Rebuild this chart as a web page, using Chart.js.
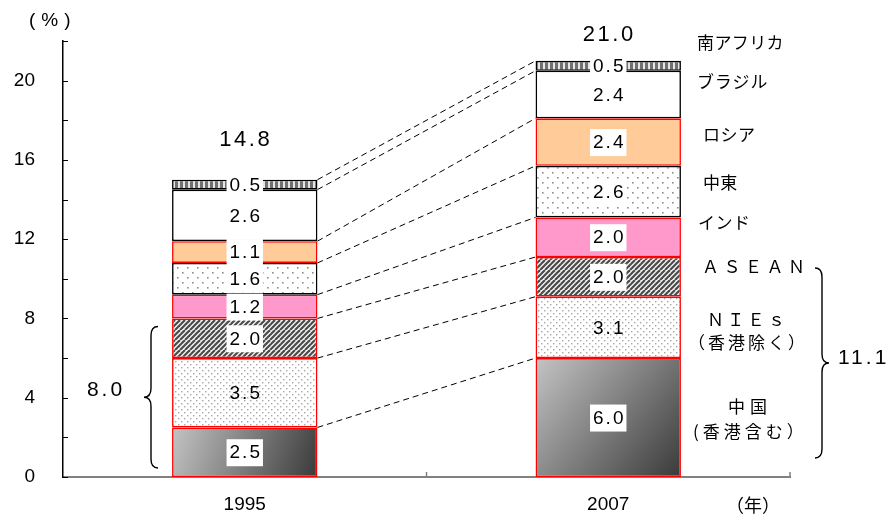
<!DOCTYPE html>
<html>
<head>
<meta charset="utf-8">
<script src="https://cdn.jsdelivr.net/npm/chart.js@4/dist/chart.umd.min.js"></script>
<style>
  html, body { margin: 0; padding: 0; background: #fff; }
  canvas { display: block; }
</style>
</head>
<body>
<canvas id="chart" width="893" height="521"></canvas>
<script>
// Export shares by destination (%), stacked bottom to top
const years = ['1995', '2007'];
const china = [2.5, 6.0];
const nies = [3.5, 3.1];
const asean = [2.0, 2.0];
const india = [1.2, 2.0];
const middleEast = [1.6, 2.6];
const russia = [1.1, 2.4];
const brazil = [2.6, 2.4];
const southAfrica = [0.5, 0.5];
const totals = ['14.8', '21.0'];
const yTickLabels = [0, 4, 8, 12, 16, 20];

const LATIN = '"Liberation Sans", Arial, sans-serif';
const CJK = '"Noto Sans CJK JP", sans-serif';

const canvas = document.getElementById('chart');
const ctx0 = canvas.getContext('2d');

function makePattern(w, h, draw) {
  const c = document.createElement('canvas');
  c.width = w; c.height = h;
  const g = c.getContext('2d');
  draw(g, w, h);
  return ctx0.createPattern(c, 'repeat');
}

const fineDots = makePattern(6, 6, (g) => {
  g.fillStyle = '#fff'; g.fillRect(0, 0, 6, 6);
  g.fillStyle = '#a6a6a6';
  g.fillRect(1, 1, 1.4, 1.4);
  g.fillRect(4, 4, 1.4, 1.4);
});
const sparseDots = makePattern(10, 10, (g) => {
  g.fillStyle = '#fff'; g.fillRect(0, 0, 10, 10);
  g.fillStyle = '#8c8c8c';
  g.fillRect(2, 2, 1.6, 1.6);
  g.fillRect(7, 7, 1.6, 1.6);
});
const hatch = makePattern(10, 10, (g) => {
  g.fillStyle = '#f4f4f4'; g.fillRect(0, 0, 10, 10);
  g.strokeStyle = '#4a4a4a'; g.lineWidth = 2.2;
  for (let k = -10; k <= 10; k += 5) {
    g.beginPath(); g.moveTo(k, 10); g.lineTo(k + 10, 0); g.stroke();
  }
});
const vStripes = makePattern(5, 4, (g) => {
  g.fillStyle = '#e6e6e6'; g.fillRect(0, 0, 5, 4);
  g.fillStyle = '#707070'; g.fillRect(0, 0, 3, 4);
});

// diagonal grey gradient for the bottom segment
function chinaFill(c) {
  const chart = c.chart;
  if (!chart.chartArea || c.dataIndex === undefined) return '#888';
  const xs = chart.scales.x, ys = chart.scales.y;
  const cx = xs.getPixelForValue(c.dataIndex);
  const half = (xs.width / years.length) * 0.4 / 2;
  const top = ys.getPixelForValue(china[c.dataIndex]);
  const base = ys.getPixelForValue(0);
  const g = chart.ctx.createLinearGradient(cx - half, top, cx + half, base);
  g.addColorStop(0, '#c4c4c4');
  g.addColorStop(1, '#3a3a3a');
  return g;
}

function ds(label, data, fill, border, labelBox) {
  return {
    label, data,
    backgroundColor: fill,
    borderColor: border,
    borderWidth: 1.6,
    borderSkipped: false,
    barPercentage: 0.4,
    categoryPercentage: 1.0,
    labelBox
  };
}

const datasets = [
  ds('中国', china, chinaFill, '#ff0000', true),
  ds('NIEs', nies, fineDots, '#ff0000', false),
  ds('ASEAN', asean, hatch, '#ff0000', true),
  ds('インド', india, '#ff99cc', '#ff0000', true),
  ds('中東', middleEast, sparseDots, '#000000', true),
  ds('ロシア', russia, '#ffcc99', '#ff0000', true),
  ds('ブラジル', brazil, '#ffffff', '#000000', false),
  ds('南アフリカ', southAfrica, vStripes, '#000000', true)
];

// right-hand region names
const sideLabels = [
  { text: '南アフリカ', x: 697, y: 43, sp: 0.4 },
  { text: 'ブラジル', x: 697, y: 82, sp: 0.8 },
  { text: 'ロシア', x: 703, y: 135, sp: 0.5 },
  { text: '中東', x: 703, y: 183, sp: 0.2 },
  { text: 'インド', x: 698, y: 223, sp: 0.5 },
  { text: 'ＡＳＥＡＮ', x: 702, y: 267, sp: 4.5 },
  { text: 'ＮＩＥｓ', x: 707, y: 320, sp: 3.3 },
  { text: '（香港除く）', x: 688, y: 343, sp: 3 },
  { text: '中国', x: 728, y: 407, sp: 5 },
  { text: '(香港含む）', x: 693, y: 432, sp: 4 }
];

function brace(ctx, xEnd, xTip, yTop, yBot) {
  const xm = (xEnd + xTip) / 2;
  const ym = (yTop + yBot) / 2;
  const r = 9;
  ctx.beginPath();
  ctx.moveTo(xEnd, yTop);
  ctx.quadraticCurveTo(xm, yTop, xm, yTop + r);
  ctx.lineTo(xm, ym - r);
  ctx.quadraticCurveTo(xm, ym, xTip, ym);
  ctx.quadraticCurveTo(xm, ym, xm, ym + r);
  ctx.lineTo(xm, yBot - r);
  ctx.quadraticCurveTo(xm, yBot, xEnd, yBot);
  ctx.stroke();
}

const decorations = {
  id: 'decorations',
  afterDatasetsDraw(chart) {
    const ctx = chart.ctx;
    const ys = chart.scales.y;
    const area = chart.chartArea;
    ctx.save();

    // inward tick marks
    ctx.strokeStyle = '#000'; ctx.lineWidth = 1;
    for (let v = 0; v <= 22; v += 2) {
      const y = Math.round(ys.getPixelForValue(v)) + 0.5;
      ctx.beginPath(); ctx.moveTo(area.left, y); ctx.lineTo(area.left + 5, y); ctx.stroke();
    }
    ctx.strokeStyle = '#808080'; ctx.lineWidth = 1.5;
    [area.left + (area.right - area.left) / 2, area.right].forEach((x) => {
      ctx.beginPath(); ctx.moveTo(x, area.bottom); ctx.lineTo(x, area.bottom - 5); ctx.stroke();
    });

    // dashed connectors between matching segment tops
    ctx.strokeStyle = '#000'; ctx.lineWidth = 1; ctx.setLineDash([6, 4]);
    chart.data.datasets.forEach((d, i) => {
      const m = chart.getDatasetMeta(i);
      const a = m.data[0], b = m.data[1];
      ctx.beginPath();
      ctx.moveTo(a.x + a.width / 2, a.y);
      ctx.lineTo(b.x - b.width / 2, b.y);
      ctx.stroke();
    });
    ctx.setLineDash([]);

    // segment value labels
    ctx.font = '19px ' + LATIN;
    ctx.letterSpacing = '2px';
    ctx.textAlign = 'center';
    ctx.textBaseline = 'middle';
    chart.data.datasets.forEach((d, i) => {
      const m = chart.getDatasetMeta(i);
      m.data.forEach((bar, j) => {
        const txt = d.data[j].toFixed(1);
        const cy = (bar.y + bar.base) / 2;
        const w = ctx.measureText(txt).width;
        if (d.labelBox) {
          ctx.fillStyle = '#fff';
          ctx.fillRect(bar.x - w / 2 - 2, cy - 13, w + 4, 27);
        }
        ctx.fillStyle = '#000';
        ctx.fillText(txt, bar.x + 1, cy + 1);
      });
    });

    // totals above each bar
    ctx.font = '22px ' + LATIN;
    ctx.letterSpacing = '2.5px';
    const top = chart.getDatasetMeta(chart.data.datasets.length - 1);
    const lift = [40, 26];
    top.data.forEach((bar, j) => {
      ctx.fillText(totals[j], bar.x + 1, bar.y - lift[j]);
    });

    // braces for the Asia subtotal
    const asia = years.map((_, j) => china[j] + nies[j] + asean[j]);
    ctx.lineWidth = 1.4;
    ctx.strokeStyle = '#000';
    brace(ctx, 158, 144, ys.getPixelForValue(asia[0]) + 8, ys.getPixelForValue(0) - 9);
    brace(ctx, 815, 829, ys.getPixelForValue(asia[1]) + 11, ys.getPixelForValue(0) - 19);
    ctx.font = '21px ' + LATIN;
    ctx.letterSpacing = '3px';
    ctx.fillText(asia[0].toFixed(1), 106, 390);
    ctx.textAlign = 'left';
    ctx.fillText(asia[1].toFixed(1), 838, 358);

    // region names
    ctx.font = '17px ' + CJK;
    sideLabels.forEach((s) => {
      ctx.letterSpacing = s.sp + 'px';
      ctx.fillText(s.text, s.x, s.y);
    });

    // unit captions
    ctx.font = '19px ' + LATIN;
    ctx.letterSpacing = '6px';
    ctx.fillText('(%)', 29, 21);
    ctx.font = '18px ' + CJK;
    ctx.letterSpacing = '0px';
    ctx.fillText('（年）', 726, 505);

    ctx.restore();
  }
};

new Chart(canvas, {
  type: 'bar',
  data: { labels: years, datasets },
  options: {
    responsive: false,
    animation: false,
    devicePixelRatio: 1,
    layout: { padding: { top: 41, right: 103, left: 0, bottom: 0 } },
    plugins: { legend: { display: false }, tooltip: { enabled: false } },
    scales: {
      x: {
        stacked: true,
        grid: { display: false, drawTicks: false },
        border: { display: true, color: '#808080', width: 2 },
        ticks: { color: '#000', font: { family: LATIN, size: 19 }, padding: 16 },
        afterFit(s) { s.height = 44; }
      },
      y: {
        stacked: true,
        min: 0, max: 22,
        grid: { display: false, drawTicks: false },
        border: { display: true, color: '#000', width: 1.5 },
        ticks: {
          stepSize: 2,
          autoSkip: false,
          color: '#000',
          font: { family: LATIN, size: 19 },
          padding: 28,
          callback: (v) => (yTickLabels.includes(v) ? String(v) : '')
        },
        afterFit(s) { s.width = 63; }
      }
    }
  },
  plugins: [decorations]
});
</script>
</body>
</html>
